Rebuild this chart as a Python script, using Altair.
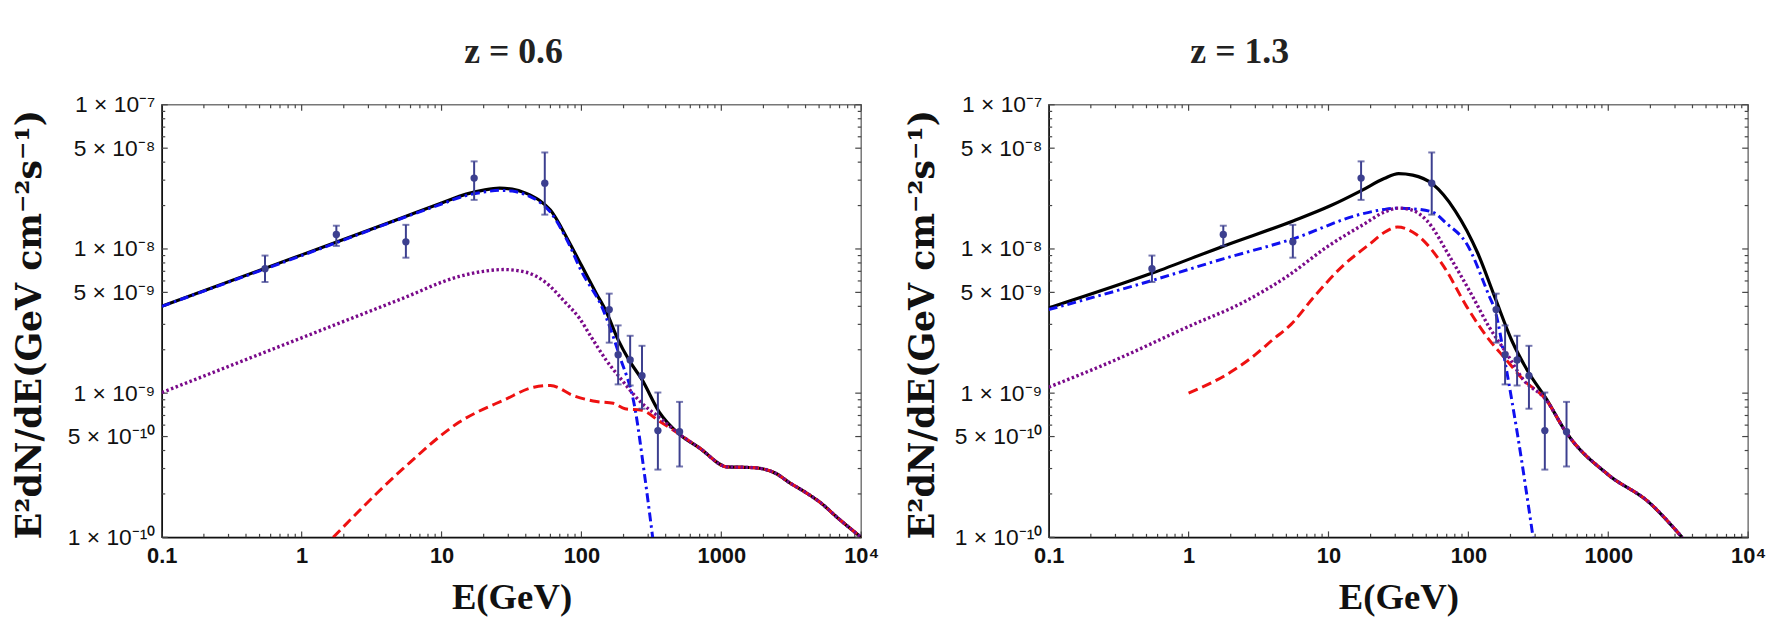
import math
import altair as alt
import pandas as pd

# ---------------- data ----------------
# measured points (same in both panels)
pt_E = [0.547, 1.77, 5.56, 17.1, 54.7, 158, 183, 223, 271, 352, 503]
pt_F = [7.3e-9, 1.26e-8, 1.12e-8, 3.1e-8, 2.86e-8, 3.8e-9, 1.85e-9, 1.70e-9, 1.32e-9, 5.5e-10, 5.4e-10]
pt_lo = [5.9e-9, 1.05e-8, 8.7e-9, 2.19e-8, 1.73e-8, 2.24e-9, 1.15e-9, 1.13e-9, 7.8e-10, 2.95e-10, 3.1e-10]
pt_hi = [9.0e-9, 1.45e-8, 1.47e-8, 4.05e-8, 4.67e-8, 4.9e-9, 2.95e-9, 2.5e-9, 2.13e-9, 1.01e-9, 8.7e-10]

# z = 0.6 panel
L_black_E = [0.1, 1, 5, 10, 15, 20, 26, 32, 40, 50, 60, 80, 100, 128, 150, 183, 220, 271, 360, 500,
             700, 1100, 1600, 2000, 2500, 3000, 4000, 5000, 7000, 10000]
L_black_F = [4.0e-9, 9.1e-9, 1.62e-8, 2.08e-8, 2.40e-8, 2.56e-8, 2.64e-8, 2.60e-8, 2.44e-8, 2.18e-8,
             1.86e-8, 1.16e-8, 7.7e-9, 4.9e-9, 3.7e-9, 2.34e-9, 1.68e-9, 1.24e-9, 7.4e-10, 5.2e-10,
             4.16e-10, 3.08e-10, 3.05e-10, 2.98e-10, 2.75e-10, 2.43e-10, 2.05e-10, 1.77e-10, 1.33e-10, 1.0e-10]
L_blue_E = [0.1, 1, 10, 15, 20, 26, 32, 40, 50, 60, 80, 100, 141, 187, 244, 280, 323]
L_blue_F = [4.0e-9, 9.0e-9, 2.05e-8, 2.35e-8, 2.48e-8, 2.55e-8, 2.52e-8, 2.38e-8, 2.12e-8, 1.8e-8,
            1.12e-8, 7.0e-9, 3.9e-9, 1.82e-9, 7.4e-10, 2.9e-10, 1.0e-10]
L_purple_E = [0.1, 1, 5, 13.4, 20, 28, 40, 55, 76, 97, 116, 150, 186, 271, 360, 500,
              700, 1100, 1600, 2000, 2500, 3000, 4000, 5000, 7000, 10000]
L_purple_F = [1.01e-9, 2.42e-9, 4.45e-9, 6.45e-9, 7.0e-9, 7.2e-9, 6.9e-9, 5.9e-9, 4.3e-9, 3.3e-9,
              2.5e-9, 1.7e-9, 1.3e-9, 8.5e-10, 6.8e-10, 5.2e-10,
              4.16e-10, 3.08e-10, 3.05e-10, 2.98e-10, 2.75e-10, 2.43e-10, 2.05e-10, 1.77e-10, 1.33e-10, 1.0e-10]
L_red_E = [1.68, 5.28, 13.4, 28.4, 45.7, 60, 88, 128, 169, 205, 271, 360, 500,
           700, 1100, 1600, 2000, 2500, 3000, 4000, 5000, 7000, 10000]
L_red_F = [1.0e-10, 2.98e-10, 6.3e-10, 9.03e-10, 1.1e-9, 1.13e-9, 9.6e-10, 8.75e-10, 8.5e-10, 7.8e-10,
           7.6e-10, 6.4e-10, 5.2e-10,
           4.16e-10, 3.08e-10, 3.05e-10, 2.98e-10, 2.75e-10, 2.43e-10, 2.05e-10, 1.77e-10, 1.33e-10, 1.0e-10]

# z = 1.3 panel
R_black_E = [0.1, 0.55, 1.79, 5.64, 10.4, 17.3, 25, 31.7, 40, 55.5, 80.5, 117, 155, 205, 271, 359, 498,
             1003, 1928, 3375]
R_black_F = [3.9e-9, 6.8e-9, 1.05e-8, 1.57e-8, 2.0e-8, 2.55e-8, 3.08e-8, 3.33e-8, 3.25e-8, 2.82e-8,
             1.84e-8, 9.3e-9, 4.6e-9, 2.3e-9, 1.38e-9, 9.2e-10, 5.37e-10, 2.71e-10, 1.77e-10, 1.0e-10]
R_blue_E = [0.1, 0.55, 1.79, 5.64, 17.3, 25, 31.7, 40, 55.5, 70, 97, 141, 155, 187, 225, 290]
R_blue_F = [3.8e-9, 6.05e-9, 8.57e-9, 1.18e-8, 1.75e-8, 1.88e-8, 1.92e-8, 1.9e-8, 1.8e-8, 1.5e-8,
            1.09e-8, 4.7e-9, 3.76e-9, 1.46e-9, 5.1e-10, 1.0e-10]
R_purple_E = [0.1, 0.3, 1, 2.5, 5, 10, 18, 25, 31.7, 40, 50.6, 73.5, 107, 140, 187, 247, 359, 498,
              1003, 1928, 3375]
R_purple_F = [1.1e-9, 1.7e-9, 2.9e-9, 4.3e-9, 6.4e-9, 1.05e-8, 1.49e-8, 1.8e-8, 1.92e-8, 1.85e-8,
              1.57e-8, 8.85e-9, 4.7e-9, 2.9e-9, 1.9e-9, 1.24e-9, 9.0e-10, 5.37e-10, 2.71e-10, 1.77e-10, 1.0e-10]
R_red_E = [1, 2, 3, 4, 5.4, 7.8, 12.5, 19.9, 25, 31.1, 42, 66.8, 97, 141, 187, 247, 359, 498,
           1003, 1928, 3375]
R_red_F = [1.0e-9, 1.4e-9, 1.85e-9, 2.35e-9, 3.0e-9, 4.6e-9, 7.55e-9, 1.09e-8, 1.3e-8, 1.42e-8, 1.27e-8,
           7.55e-9, 4.0e-9, 2.34e-9, 1.7e-9, 1.24e-9, 9.0e-10, 5.37e-10, 2.71e-10, 1.77e-10, 1.0e-10]

# axis ticks / labels
x_tick_values = [0.1, 1, 10, 100, 1000, 10000]
x_tick_labels = ["0.1", "1", "10", "100", "1000", "10⁴"]
y_tick_values = [1e-10, 5e-10, 1e-9, 5e-9, 1e-8, 5e-8, 1e-7]
y_tick_labels = ["1 × 10⁻¹⁰", "5 × 10⁻¹⁰", "1 × 10⁻⁹", "5 × 10⁻⁹", "1 × 10⁻⁸", "5 × 10⁻⁸", "1 × 10⁻⁷"]
x_minor = [k * 10.0 ** n for n in range(-1, 4) for k in range(2, 10)]
y_minor = [k * 10.0 ** n for n in (-10, -9, -8) for k in (2, 3, 4, 6, 7, 8, 9)]

titles = ["z = 0.6", "z = 1.3"]
y_title = "E²dN/dE(GeV cm⁻²s⁻¹)"
x_title = "E(GeV)"

# ---------------- styling ----------------
W, H = 705, 436
SANS = "Liberation Sans"
SERIF = "Liberation Serif"


def label_expr(values, labels):
    expr = "''"
    for v, l in reversed(list(zip(values, labels))):
        expr = f"(abs(log(datum.value)/LN10 - ({math.log10(v):.5f})) < 0.01 ? '{l}' : {expr})"
    return expr


xs = alt.Scale(type="log", domain=[0.1, 10000], nice=False)
ys = alt.Scale(type="log", domain=[1e-10, 1e-7], nice=False)


def make_axes(ytitle_x):
    x_axis = alt.Axis(values=x_tick_values, labelExpr=label_expr(x_tick_values, x_tick_labels),
                      labelFont=SANS, labelFontWeight="bold", labelFontSize=22, labelColor="#111",
                      labelPadding=8, labelFlush=False, labelOverlap=False, ticks=False, grid=False,
                      domainColor="#111", domainWidth=1.5,
                      title=x_title, titleFont=SERIF, titleFontWeight="bold", titleFontSize=37,
                      titleColor="#111", titleX=W / 2, titleY=61, titleBaseline="middle",
                      titleAlign="center")
    y_axis = alt.Axis(values=y_tick_values, labelExpr=label_expr(y_tick_values, y_tick_labels),
                      labelFont=SANS, labelFontSize=23, labelColor="#111", labelPadding=7,
                      labelOverlap=False, labelFlush=False, ticks=False, grid=False,
                      domainColor="#111", domainWidth=1.5,
                      title=y_title, titleFont="DejaVu Serif", titleFontWeight="bold", titleFontSize=35,
                      titleColor="#111", titleAngle=270, titleX=ytitle_x, titleY=221,
                      titleBaseline="middle", titleAlign="center")
    return x_axis, y_axis


def panel(black, blue, purple, red, title, title_dx, ytitle_x):
    x_axis, y_axis = make_axes(ytitle_x)

    def X(f):
        return alt.X(f, type="quantitative", scale=xs, axis=x_axis)

    def Y(f):
        return alt.Y(f, type="quantitative", scale=ys, axis=y_axis)

    layers = []
    tick_col = "#444"
    # inward ticks on all four sides
    for vals, length in ((x_tick_values, 6), (x_minor, 3.5)):
        d = pd.DataFrame({"v": vals})
        layers.append(alt.Chart(d).mark_rule(color=tick_col, strokeWidth=1.2).encode(
            x=X("v"), y=alt.value(H), y2=alt.value(H - length)))
        layers.append(alt.Chart(d).mark_rule(color=tick_col, strokeWidth=1.2).encode(
            x=X("v"), y=alt.value(0), y2=alt.value(length)))
    for vals, length in ((y_tick_values, 6), (y_minor, 3.5)):
        d = pd.DataFrame({"v": vals})
        layers.append(alt.Chart(d).mark_rule(color=tick_col, strokeWidth=1.2).encode(
            y=Y("v"), x=alt.value(0), x2=alt.value(length)))
        layers.append(alt.Chart(d).mark_rule(color=tick_col, strokeWidth=1.2).encode(
            y=Y("v"), x=alt.value(W), x2=alt.value(W - length)))

    styles = [
        (black, dict(color="#000000", strokeWidth=3.2)),
        (blue, dict(color="#1010f0", strokeWidth=3, strokeDash=[9, 4, 2.5, 4])),
        (red, dict(color="#ee1111", strokeWidth=3, strokeDash=[10, 5])),
        (purple, dict(color="#7a0a8a", strokeWidth=3.4, strokeDash=[2.5, 2.5])),
    ]
    for (E, F), st in styles:
        d = pd.DataFrame({"E": E, "F": F})
        layers.append(alt.Chart(d).mark_line(clip=True, interpolate="monotone", **st).encode(
            x=X("E"), y=Y("F"), order=alt.Order("E:Q")))

    pts = pd.DataFrame({"E": pt_E, "F": pt_F, "lo": pt_lo, "hi": pt_hi})
    pc = "#3c3f8f"
    layers.append(alt.Chart(pts).mark_rule(color=pc, strokeWidth=2).encode(
        x=X("E"), y=Y("lo"), y2="hi"))
    layers.append(alt.Chart(pts).mark_tick(color=pc, orient="horizontal", size=7, thickness=2).encode(
        x=X("E"), y=Y("lo")))
    layers.append(alt.Chart(pts).mark_tick(color=pc, orient="horizontal", size=7, thickness=2).encode(
        x=X("E"), y=Y("hi")))
    layers.append(alt.Chart(pts).mark_circle(color=pc, size=55, opacity=1).encode(
        x=X("E"), y=Y("F")))

    return alt.layer(*layers).properties(
        width=W, height=H,
        title=alt.TitleParams(text=title, font=SERIF, fontSize=36, fontWeight="bold",
                              color="#222", anchor="middle", dx=title_dx, offset=23))


left = panel((L_black_E, L_black_F), (L_blue_E, L_blue_F), (L_purple_E, L_purple_F),
             (L_red_E, L_red_F), titles[0], 2, -133)
right = panel((R_black_E, R_black_F), (R_blue_E, R_blue_F), (R_purple_E, R_purple_F),
              (R_red_E, R_red_F), titles[1], -160, -127)

chart = alt.hconcat(left, right, spacing=189, bounds="flush").properties(
    padding={"left": 4, "top": 23, "right": 0, "bottom": 30},
    background="white",
).configure_view(stroke="#777", strokeWidth=1.5)

chart.save("out.html", embed_options={"renderer": "svg", "actions": False})
